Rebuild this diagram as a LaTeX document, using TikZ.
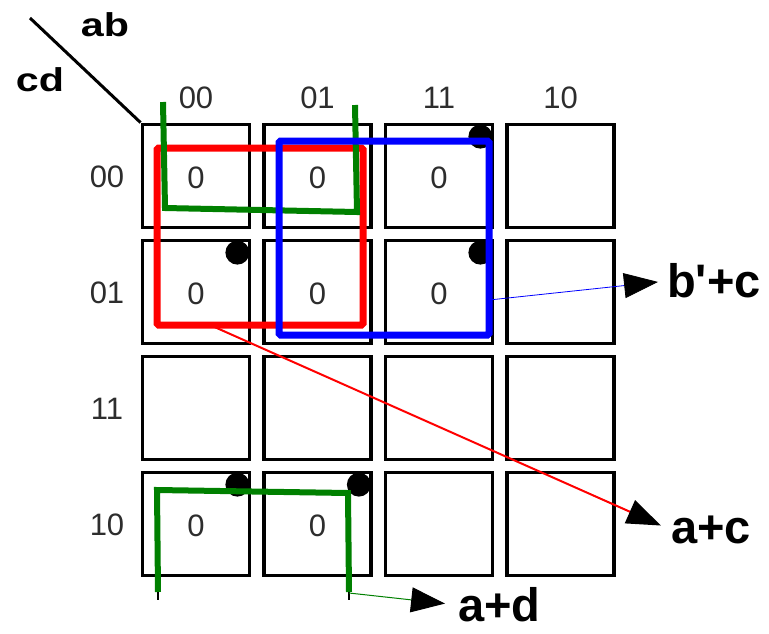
\documentclass[tikz,border=0pt]{standalone}
\usepackage{fontspec}
\setmainfont{Liberation Sans}
\usetikzlibrary{positioning,arrows.meta,calc}
\definecolor{kgreen}{RGB}{0,128,0}
\definecolor{digitgray}{RGB}{45,45,45}
\newcommand{\digitfont}{\fontsize{31}{31}\selectfont}
\newcommand{\varfont}{\bfseries\fontsize{33}{33}\selectfont}
\newcommand{\fnfont}{\bfseries\fontsize{47}{47}\selectfont}
\newcommand{\widetext}[1]{\scalebox{1.25}[1]{#1}}

\begin{document}
\begin{tikzpicture}[x=1pt, y=-1pt,
  cell/.style={draw, line width=3.8pt, minimum width=107pt, minimum height=103pt,
    inner sep=0pt},
  idx/.style={font=\digitfont, text=digitgray, inner sep=0pt},
  var/.style={font=\varfont, inner sep=0pt},
  fn/.style={font=\fnfont, inner sep=0pt, anchor=west},
  dot/.style={circle, fill=black, minimum size=24pt, inner sep=0pt},
  grp/.style={line width=7pt, rounded corners=1.5pt},
  loop/.style={line width=6pt, kgreen},
  tip/.style={-{Triangle[length=34pt, width=25pt, color=black]}},
]
  \useasboundingbox (0,0) rectangle (769,633);

  % map cells, labels above and left
  \foreach \c/\ab in {0/00,1/01,2/11,3/10} {
    \node[idx] (ab\c) at ({196+121.5*\c},98) {\ab};
    \foreach \r in {0,1,2,3}
      \node[cell] (c\c\r) at ({196+121.5*\c},{176+116*\r}) {};
  }
  \foreach \r/\cd in {0/00,1/01,2/11,3/10}
    \node[idx] (cd\r) at (107,{177+116*\r}) {\cd};

  % zero entries
  \foreach \n in {c00,c10,c20,c01,c11,c21,c03,c13}
    \node[idx] (z\n) at ([yshift=-1.5pt]\n.center) {0};

  % corner heading
  \coordinate (diag) at (30,18);
  \draw[line width=3pt] (diag) -- (c00.north west);
  \node[var] (ab) at (105,25) {\widetext{ab}};
  \node[var] (cd) at (40,80) {\widetext{cd}};

  % dots
  \foreach \n in {c20,c01,c21,c03,c13}
    \node[dot] (d\n) at ($(\n.north east)+(-14,14)$) {};

  % groups
  \draw[grp, red] (157,148) rectangle (363,325);
  \draw[loop] (163,102) -- (165,208) -- (357,212) -- (355,105);
  \draw[loop] (158,592) -- (157,490) -- (348,493) -- (349,592);
  \draw[line width=1.5pt] (158,592) -- (158,600);
  \draw[line width=1.5pt] (349,592) -- (349,600);
  \draw[grp, blue] (279,141) rectangle (489,335);

  % outputs
  \coordinate (redout) at (210,325);
  \coordinate (blueout) at (489,300);
  \coordinate (greenout) at (349,593);
  \node[fn] (fbc) at (667,281) {b\textquotesingle+c};
  \node[fn] (fac) at (671,530) {a+c};
  \node[fn] (fad) at (458,605) {a+d};

  \draw[tip, red, line width=2pt, shorten >=11pt] (redout) -- (fac.west);
  \draw[tip, blue, line width=0.8pt, shorten >=9pt] (blueout) -- (fbc.west);
  \draw[tip, kgreen, line width=1pt, shorten >=13pt] (greenout) -- (fad.west);
\end{tikzpicture}
\end{document}
